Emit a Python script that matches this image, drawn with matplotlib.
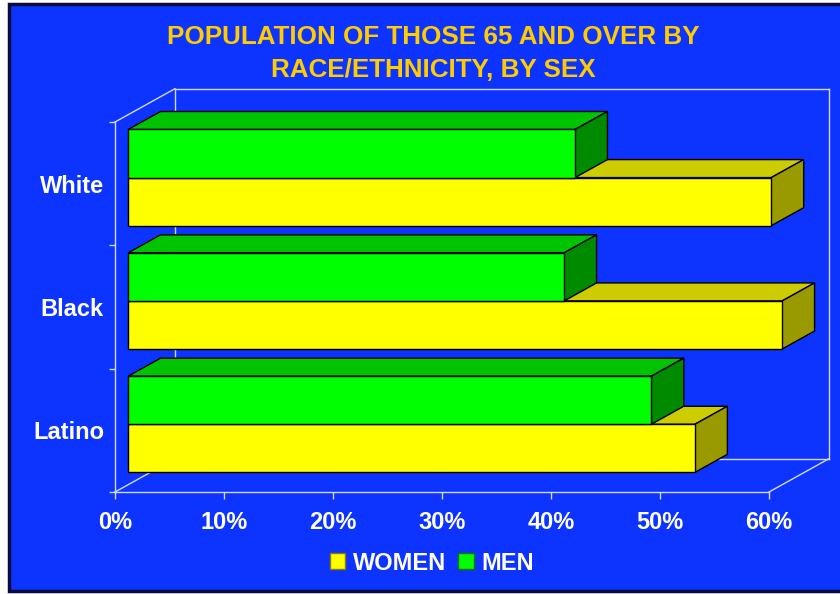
import matplotlib.pyplot as plt
from matplotlib.patches import Polygon, Rectangle, Patch

plt.rcParams['font.family'] = ['Liberation Sans', 'DejaVu Sans']
plt.rcParams['font.weight'] = 'bold'

# data, bottom to top
groups = ['Latino', 'Black', 'White']
women = [52, 60, 59]
men = [48, 40, 41]
xticks = [0, 10, 20, 30, 40, 50, 60]
xlabels = ['0%', '10%', '20%', '30%', '40%', '50%', '60%']
title1 = 'POPULATION OF THOSE 65 AND OVER BY'
title2 = 'RACE/ETHNICITY, BY SEX'

BG = '#0D33FF'
GRID = '#D4DAFF'
YEL = ('#FFFF00', '#CCCC00', '#999900')   # front, top, side
GRN = ('#00FF00', '#00C400', '#008A00')

# depth of the box in data units (x in %, y in groups)
DX = 5.5
DY = 0.27

fig = plt.figure(figsize=(8.4, 5.94), dpi=100)
fig.patch.set_facecolor('white')
fig.patches.append(Rectangle((9 / 840, 3 / 594), 1.0, 1 - 7 / 594,
                             transform=fig.transFigure, facecolor=BG,
                             edgecolor='#0A0A3C', linewidth=2.5, zorder=-10))

ax = fig.add_axes([115 / 840, 102 / 594, 654 / 840, 370 / 594])
ax.set_facecolor('none')
ax.set_xlim(0, 60)
ax.set_ylim(0, 3)

# open box: left wall, floor and back wall
def line(xs, ys):
    ax.plot(xs, ys, color=GRID, lw=1, clip_on=False, zorder=1)

line([0, DX], [3, 3 + DY])
line([DX, DX], [3 + DY, DY])
line([DX, 60 + DX], [3 + DY, 3 + DY])
line([60 + DX, 60 + DX], [3 + DY, DY])
line([DX, 60 + DX], [DY, DY])
line([0, DX], [0, DY])
line([60, 60 + DX], [0, DY])

def box(x1, y0, y1, cols, d0=0.22, d1=0.76):
    fx, fy = d0 * DX, d0 * DY
    bx, by = d1 * DX, d1 * DY
    front = [(fx, y0 + fy), (x1 + fx, y0 + fy), (x1 + fx, y1 + fy), (fx, y1 + fy)]
    top = [(fx, y1 + fy), (x1 + fx, y1 + fy), (x1 + bx, y1 + by), (bx, y1 + by)]
    side = [(x1 + fx, y0 + fy), (x1 + bx, y0 + by), (x1 + bx, y1 + by), (x1 + fx, y1 + fy)]
    for pts, c in ((top, cols[1]), (side, cols[2]), (front, cols[0])):
        ax.add_patch(Polygon(pts, closed=True, facecolor=c, edgecolor='black',
                             lw=1, clip_on=False, zorder=3))

h = 0.39
for i in range(len(groups)):
    box(women[i], i + 0.49 - h, i + 0.49, YEL)
    box(men[i], i + 0.49, i + 0.49 + h, GRN)

for s in ['top', 'right']:
    ax.spines[s].set_visible(False)
for s in ['bottom', 'left']:
    ax.spines[s].set_color(GRID)
    ax.spines[s].set_linewidth(1)

ax.set_xticks(xticks)
ax.set_xticklabels(xlabels)
ax.set_yticks([0, 1, 2, 3])
ax.set_yticklabels([])
ax.set_yticks([0.5, 1.5, 2.5], minor=True)
ax.set_yticklabels(groups, minor=True)
ax.tick_params(axis='x', colors=GRID, length=5, width=1, pad=9,
               labelsize=17, labelcolor='white')
ax.tick_params(axis='y', which='major', colors=GRID, length=4.5, width=1)
ax.tick_params(axis='y', which='minor', length=0, pad=8,
               labelsize=17, labelcolor='white')

fig.text(433 / 840, 1 - 37 / 594, title1, ha='center', va='center',
         fontsize=18.7, color='#FFCC00', fontweight='bold')
fig.text(433 / 840, 1 - 70 / 594, title2, ha='center', va='center',
         fontsize=18.7, color='#FFCC00', fontweight='bold')

handles = [Patch(facecolor=YEL[0], edgecolor='#8A7A00', label='WOMEN'),
           Patch(facecolor=GRN[0], edgecolor='#007A00', label='MEN')]
leg = fig.legend(handles=handles, loc='center', bbox_to_anchor=(432 / 840, 1 - 563 / 594),
                 ncol=2, frameon=False, fontsize=17, handlelength=0.65,
                 handleheight=0.65, handletextpad=0.35, columnspacing=0.5)
for t in leg.get_texts():
    t.set_color('white')

fig.savefig('out.png', dpi=100, facecolor=fig.get_facecolor())
